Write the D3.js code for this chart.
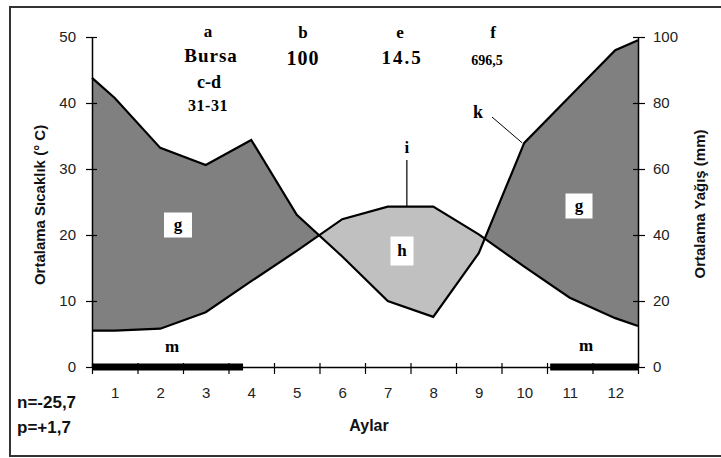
<!DOCTYPE html>
<html lang="tr">
<head>
  <meta charset="utf-8">
  <title>Bursa iklim diyagramı</title>
  <style>
    html, body { margin: 0; padding: 0; background: #fff; }
    svg { display: block; }
    .tick text { font-family: "Liberation Sans", Arial, sans-serif; font-size: 15px; fill: #222; }
    .lbl { font-family: "Liberation Serif", "Times New Roman", serif; font-weight: bold; fill: #000; }
    .ttl { font-family: "Liberation Sans", Arial, sans-serif; font-weight: bold; font-size: 15px; fill: #111; }
  </style>
</head>
<body>
<div id="chart"></div>
<script src="https://cdn.jsdelivr.net/npm/d3@7"></script>
<script>

  ////////////////////////////////////////////////// DATA

  // month positions (half months at the edges close the curve at the axes)
  var months      = [0.5, 1, 2, 3, 4, 5, 6, 7, 8, 9, 10, 11, 12, 12.5];
  // mean temperature (°C)
  var temperature = [5.5, 5.5, 5.8, 8.3, 13.0, 17.6, 22.4, 24.3, 24.3, 20.1, 15.2, 10.5, 7.4, 6.2];
  // mean precipitation (mm)
  var precipitation = [87.6, 81.5, 66.4, 61.2, 68.8, 46.1, 33.5, 20.0, 15.2, 34.5, 67.9, 82.0, 96.0, 99.0];

  var monthLabels = ["1", "2", "3", "4", "5", "6", "7", "8", "9", "10", "11", "12"];
  var tempTicks   = [0, 10, 20, 30, 40, 50];
  var rainTicks   = [0, 20, 40, 60, 80, 100];

  // frost periods (thick bars on the month axis)
  var frostPeriods = [[0.5, 3.82], [10.57, 12.5]];

  ////////////////////////////////////////////////// SETUP

  var width = 721, height = 458;
  var plot = {left: 92, right: 638, top: 37, bottom: 367};

  var svg = d3.select("#chart").append("svg")
              .attr("width", width)
              .attr("height", height);

  // frame (right side runs off the picture)
  svg.append("rect")
     .attr("x", 10).attr("y", 7)
     .attr("width", 730).attr("height", 449)
     .attr("fill", "#fff")
     .attr("stroke", "#333")
     .attr("stroke-width", 2);

  var x  = d3.scaleLinear().domain([0.5, 12.5]).range([plot.left, plot.right]);
  var yT = d3.scaleLinear().domain([0, 50]).range([plot.bottom, plot.top]);
  var yP = d3.scaleLinear().domain([0, 100]).range([plot.bottom, plot.top]);

  var data = months.map(function(m, i) {
    return {m: m, t: temperature[i], p: precipitation[i]};
  });

  ////////////////////////////////////////////////// AREAS

  var defs = svg.append("defs");

  defs.append("clipPath").attr("id", "clip-above")
      .append("path")
      .attr("d", d3.area().x(function(d){ return x(d.m); })
                          .y0(0)
                          .y1(function(d){ return yT(d.t); })(data));

  defs.append("clipPath").attr("id", "clip-below")
      .append("path")
      .attr("d", d3.area().x(function(d){ return x(d.m); })
                          .y0(function(d){ return yT(d.t); })
                          .y1(height)(data));

  var between = d3.area()
                  .x(function(d){ return x(d.m); })
                  .y0(function(d){ return yT(d.t); })
                  .y1(function(d){ return yP(d.p); });

  // humid period
  svg.append("path")
     .attr("d", between(data))
     .attr("clip-path", "url(#clip-above)")
     .attr("fill", "#808080");

  // dry period
  svg.append("path")
     .attr("d", between(data))
     .attr("clip-path", "url(#clip-below)")
     .attr("fill", "#c0c0c0");

  var tempLine = d3.line().x(function(d){ return x(d.m); }).y(function(d){ return yT(d.t); });
  var rainLine = d3.line().x(function(d){ return x(d.m); }).y(function(d){ return yP(d.p); });

  svg.append("path").attr("d", tempLine(data))
     .attr("fill", "none").attr("stroke", "#000").attr("stroke-width", 2.2);
  svg.append("path").attr("d", rainLine(data))
     .attr("fill", "none").attr("stroke", "#000").attr("stroke-width", 2.2);

  ////////////////////////////////////////////////// AXES

  var leftAxis = svg.append("g")
     .attr("transform", "translate(" + plot.left + ",0)")
     .call(d3.axisLeft(yT).tickValues(tempTicks).tickSize(6).tickSizeOuter(0).tickPadding(10));
  leftAxis.selectAll(".tick line").attr("x1", 5);

  var rightAxis = svg.append("g")
     .attr("transform", "translate(" + plot.right + ",0)")
     .call(d3.axisRight(yP).tickValues(rainTicks).tickSize(7).tickSizeOuter(0).tickPadding(8));
  rightAxis.selectAll(".tick line").attr("x1", -5);

  // month boundaries
  var bottomAxis = svg.append("g")
     .attr("transform", "translate(0," + plot.bottom + ")")
     .call(d3.axisBottom(x).tickValues(d3.range(0.5, 13, 1)).tickSize(7).tickSizeOuter(0).tickFormat(""));
  bottomAxis.selectAll(".tick line").attr("y1", -4);

  // month labels
  svg.append("g")
     .attr("transform", "translate(0," + plot.bottom + ")")
     .call(d3.axisBottom(x).tickValues(d3.range(1, 13)).tickSize(0).tickPadding(20)
                           .tickFormat(function(d, i){ return monthLabels[i]; }))
     .select(".domain").remove();

  svg.selectAll(".domain").attr("stroke", "#000").attr("stroke-width", 1.5);
  svg.selectAll(".tick line").attr("stroke", "#000").attr("stroke-width", 1.2);

  // frost bars
  svg.selectAll(".frost")
     .data(frostPeriods)
     .enter().append("rect")
     .attr("class", "frost")
     .attr("x", function(d){ return x(d[0]); })
     .attr("width", function(d){ return x(d[1]) - x(d[0]); })
     .attr("y", plot.bottom - 3.5)
     .attr("height", 7)
     .attr("fill", "#000");

  ////////////////////////////////////////////////// TITLES

  svg.append("text").attr("class", "ttl")
     .attr("transform", "translate(45,205) rotate(-90)")
     .attr("text-anchor", "middle")
     .text("Ortalama Sıcaklık (° C)");

  svg.append("text").attr("class", "ttl")
     .attr("transform", "translate(705,204) rotate(-90)")
     .attr("text-anchor", "middle")
     .text("Ortalama Yağış (mm)");

  svg.append("text").attr("class", "ttl")
     .attr("x", 369).attr("y", 431)
     .attr("text-anchor", "middle")
     .style("font-size", "16px")
     .text("Aylar");

  svg.append("text").attr("class", "ttl").style("font-size", "17px")
     .attr("x", 17).attr("y", 408).text("n=-25,7");
  svg.append("text").attr("class", "ttl").style("font-size", "17px")
     .attr("x", 17).attr("y", 433).text("p=+1,7");

  ////////////////////////////////////////////////// LABELS

  function label(txt, cx, cy, size, spacing) {
    return svg.append("text").attr("class", "lbl")
              .attr("x", cx).attr("y", cy)
              .attr("dy", "0.35em")
              .attr("text-anchor", "middle")
              .style("font-size", size + "px")
              .style("letter-spacing", (spacing || 0) + "px")
              .text(txt);
  }

  label("a", 208, 31, 17);
  label("Bursa", 211, 55, 19, 1);
  label("c-d", 209, 82, 18);
  label("31-31", 208, 105, 16, 0.5);
  label("b", 303, 32, 17);
  label("100", 303, 58, 20, 1);
  label("e", 400, 32, 17);
  label("14.5", 402, 57, 19, 2);
  label("f", 493, 32, 17);
  label("696,5", 487, 60, 14);

  // boxed letters
  function boxLabel(txt, cx, cy, w, h) {
    svg.append("rect")
       .attr("x", cx - w / 2).attr("y", cy - h / 2)
       .attr("width", w).attr("height", h)
       .attr("fill", "#fff");
    label(txt, cx, cy - 1, 17);
  }
  boxLabel("g", 178, 225, 28, 25);
  boxLabel("g", 579, 206, 27, 25);
  boxLabel("h", 402, 251, 23, 29);

  label("m", 172, 346, 17);
  label("m", 586, 345, 17);

  // i : top of the dry period
  svg.append("line")
     .attr("x1", x(7.42)).attr("x2", x(7.42))
     .attr("y1", 160).attr("y2", yT(24.3))
     .attr("stroke", "#000").attr("stroke-width", 1.2);
  label("i", x(7.42), 147, 17);

  // k : precipitation curve
  svg.append("line")
     .attr("x1", 492).attr("y1", 117)
     .attr("x2", x(10) - 2).attr("y2", yP(67.9))
     .attr("stroke", "#000").attr("stroke-width", 1);
  label("k", 478, 112, 18);

</script>
</body>
</html>
